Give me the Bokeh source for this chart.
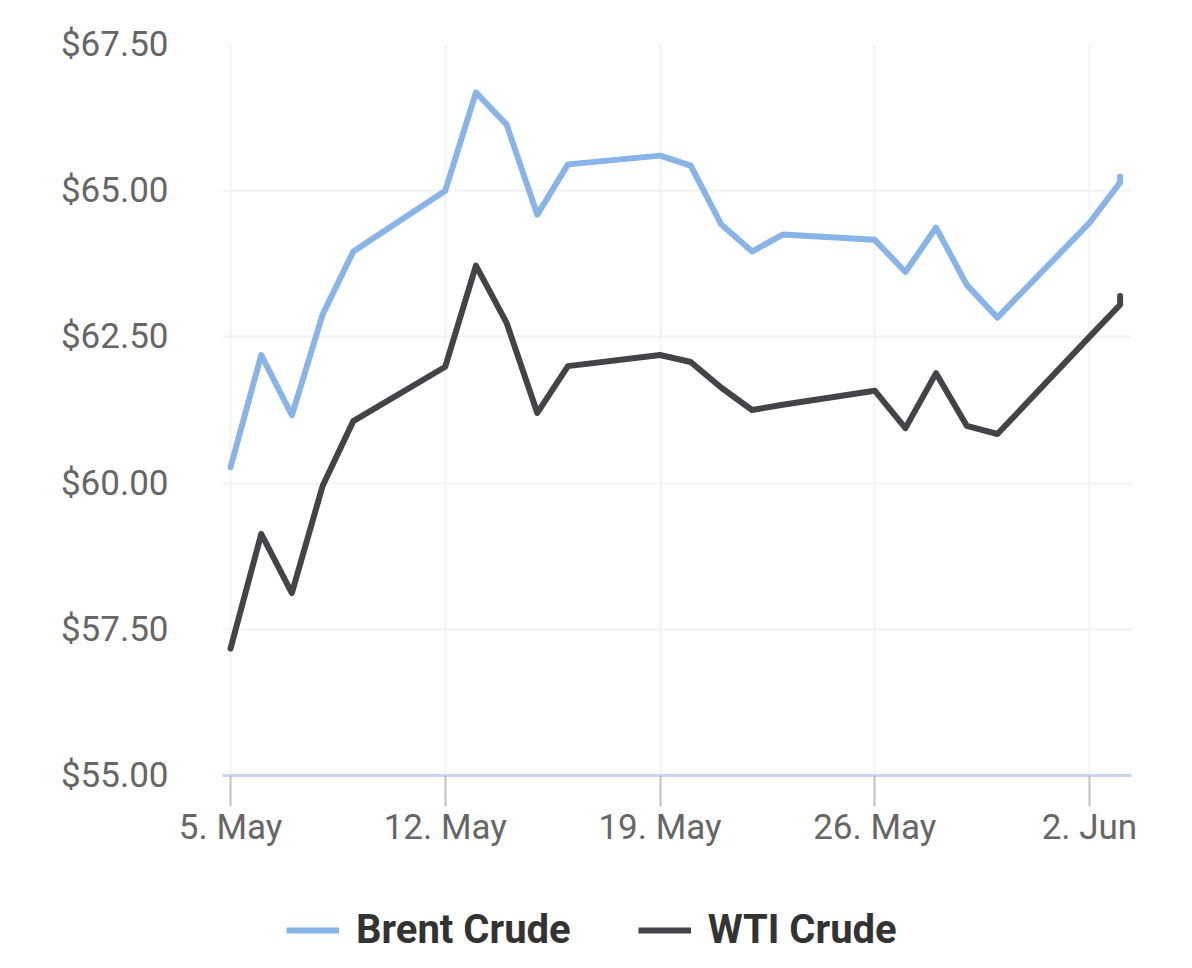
import pandas as pd
from bokeh.plotting import figure
from bokeh.layouts import column
from bokeh.models import Range1d, FixedTicker, NumeralTickFormatter, CustomJSTickFormatter, Legend, LegendItem
from bokeh.embed import file_html
from bokeh.resources import INLINE

# ---- data ----
dates = ["2025-05-05", "2025-05-06", "2025-05-07", "2025-05-08", "2025-05-09",
         "2025-05-12", "2025-05-13", "2025-05-14", "2025-05-15", "2025-05-16",
         "2025-05-19", "2025-05-20", "2025-05-21", "2025-05-22", "2025-05-23",
         "2025-05-26", "2025-05-27", "2025-05-28", "2025-05-29", "2025-05-30",
         "2025-06-02", "2025-06-03", "2025-06-03"]
brent = [60.27, 62.19, 61.16, 62.88, 63.96,
         65.00, 66.68, 66.13, 64.59, 65.45,
         65.60, 65.43, 64.42, 63.96, 64.25,
         64.16, 63.61, 64.37, 63.39, 62.83,
         64.45, 65.14, 65.24]
wti = [57.17, 59.13, 58.12, 59.95, 61.06,
       61.99, 63.72, 62.74, 61.20, 62.00,
       62.19, 62.07, 61.63, 61.25, 61.34,
       61.58, 60.94, 61.88, 60.98, 60.84,
       62.50, 63.05, 63.20]
y_ticks = [55.0, 57.5, 60.0, 62.5, 65.0, 67.5]
x_tick_dates = ["2025-05-05", "2025-05-12", "2025-05-19", "2025-05-26", "2025-06-02"]
series_names = ["Brent Crude", "WTI Crude"]
colors = ["#89b4e7", "#434348"]

x = pd.to_datetime(dates)
x_start = pd.Timestamp("2025-05-05") - pd.Timedelta(hours=6.3)
x_end = pd.Timestamp("2025-06-03") + pd.Timedelta(hours=8.9)

# ---- main chart ----
p = figure(width=1184, height=868, x_axis_type="datetime",
           output_backend="svg", toolbar_location=None,
           x_range=Range1d(x_start, x_end), y_range=Range1d(55, 67.5),
           min_border_left=222, min_border_top=44, min_border_right=53,
           min_border_bottom=93)
p.outline_line_color = None
p.background_fill_color = "white"
p.border_fill_color = "white"

for vals, c in zip([brent, wti], colors):
    p.line(x, vals, line_color=c, line_width=6, line_join="round", line_cap="round")

p.yaxis.ticker = FixedTicker(ticks=y_ticks)
p.yaxis.formatter = NumeralTickFormatter(format="$0.00")
p.yaxis.axis_line_color = None
p.yaxis.major_tick_line_color = None
p.yaxis.minor_tick_line_color = None
p.yaxis.major_tick_out = 0
p.yaxis.major_tick_in = 0
p.yaxis.major_label_standoff = 54
p.yaxis.major_label_text_font = "Roboto"
p.yaxis.major_label_text_font_size = "35px"
p.yaxis.major_label_text_color = "#666666"

x_ticks_ms = [pd.Timestamp(d).value // 10**6 for d in x_tick_dates]
p.xaxis.ticker = FixedTicker(ticks=x_ticks_ms)
p.xaxis.formatter = CustomJSTickFormatter(code="""
const m = ['Jan','Feb','Mar','Apr','May','Jun','Jul','Aug','Sep','Oct','Nov','Dec'];
const d = new Date(tick);
return d.getUTCDate() + '. ' + m[d.getUTCMonth()];
""")
p.xaxis.axis_line_color = "#ccd6eb"
p.xaxis.axis_line_width = 3
p.xaxis.major_tick_line_color = "#c0c0c0"
p.xaxis.major_tick_line_width = 2
p.xaxis.major_tick_out = 31
p.xaxis.major_tick_in = 0
p.xaxis.minor_tick_line_color = None
p.xaxis.major_label_standoff = 0
p.xaxis.major_label_text_font = "Roboto"
p.xaxis.major_label_text_font_size = "35px"
p.xaxis.major_label_text_color = "#666666"

p.xgrid.grid_line_color = "#f2f2f2"
p.xgrid.grid_line_width = 2
p.ygrid.grid_line_color = "#f2f2f2"
p.ygrid.grid_line_width = 2

# ---- legend strip (series drawn out of view; only the legend shows) ----
pl = figure(width=1184, height=92, x_axis_location=None, y_axis_location=None,
            output_backend="svg", toolbar_location=None,
            x_range=Range1d(x_start, x_end), y_range=Range1d(0, 1),
            min_border_left=0, min_border_right=0, min_border_top=0, min_border_bottom=0)
pl.outline_line_color = None
pl.grid.visible = False
pl.background_fill_color = "white"
pl.border_fill_color = "white"
leg_renderers = [pl.line(x, vals, line_color=c, line_width=6)
                 for vals, c in zip([brent, wti], colors)]

legend = Legend(items=[LegendItem(label=n, renderers=[r]) for n, r in zip(series_names, leg_renderers)],
                orientation="horizontal", location=(64, 7))
legend.padding = 0
legend.margin = 0
legend.spacing = 67
legend.glyph_width = 53
legend.glyph_height = 20
legend.label_standoff = 17
legend.label_text_font = "Roboto"
legend.label_text_font_style = "bold"
legend.label_text_font_size = "40px"
legend.label_text_color = "#333333"
legend.border_line_color = None
legend.background_fill_alpha = 0
pl.add_layout(legend)

layout = column(p, pl, spacing=0)
open("out.html", "w").write(file_html(layout, INLINE))
